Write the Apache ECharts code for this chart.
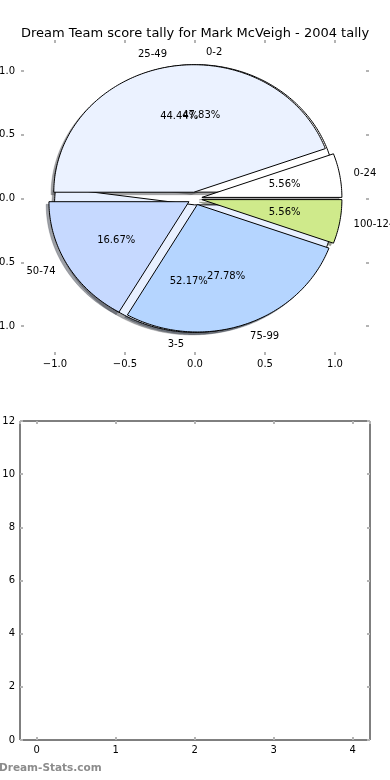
<!DOCTYPE html>
<html><head><meta charset="utf-8">
<script src="https://cdn.jsdelivr.net/npm/echarts@6/dist/echarts.min.js"></script>
<style>html,body{margin:0;padding:0;background:#fff}#c{width:390px;height:780px}</style>
</head><body><div id="c"></div>
<script>
const titleText = 'Dream Team score tally for Mark McVeigh - 2004 tally';
const innerCategories = ['0-2', '3-5'];
const innerCounts = [11, 12];
const outerCategories = ['0-24', '25-49', '50-74', '75-99', '100-124'];
const outerCounts = [1, 8, 3, 5, 1];
const pieTicks = [-1.0, -0.5, 0.0, 0.5, 1.0];
const lowerXTicks = [0, 1, 2, 3, 4];
const lowerYTicks = [0, 2, 4, 6, 8, 10, 12];
const watermark = 'Dream-Stats.com';

const innerColors = ['#ffffff', '#e8f0ff'];
const outerColors = ['#ffffff', '#ebf2ff', '#c6d9ff', '#b5d5ff', '#cfea8b'];
const EXPLODE = 0.05;
const FONT = 'DejaVu Sans';

function buildSlices(counts, pieIdx) {
  const total = counts.reduce((a, b) => a + b, 0);
  let acc = 0;
  return counts.map((v, i) => {
    const t1 = acc / total * 360; acc += v; const t2 = acc / total * 360;
    return [t1, t2, pieIdx, i, v / total * 100];
  });
}
const innerSlices = buildSlices(innerCounts, 0);
const outerSlices = buildSlices(outerCounts, 1);
const allSlices = innerSlices.concat(outerSlices);

function colorOf(pieIdx, i) { return pieIdx === 0 ? innerColors[i] : outerColors[i]; }
function labelOf(pieIdx, i) { return pieIdx === 0 ? innerCategories[i] : outerCategories[i]; }

function wedgePoints(api, t1, t2, dx, dy) {
  const mid = (t1 + t2) / 2 * Math.PI / 180;
  const cx = EXPLODE * Math.cos(mid) + dx, cy = EXPLODE * Math.sin(mid) + dy;
  const pts = [api.coord([cx, cy])];
  const n = Math.max(4, Math.ceil(t2 - t1));
  for (let k = 0; k <= n; k++) {
    const t = (t1 + (t2 - t1) * k / n) * Math.PI / 180;
    pts.push(api.coord([cx + Math.cos(t), cy + Math.sin(t)]));
  }
  return pts;
}
function shadowColor(hex) {
  const r = parseInt(hex.slice(1, 3), 16), g = parseInt(hex.slice(3, 5), 16), b = parseInt(hex.slice(5, 7), 16);
  return 'rgba(' + Math.round(r * 0.3) + ',' + Math.round(g * 0.3) + ',' + Math.round(b * 0.3) + ',0.5)';
}

function wedgeRender(params, api) {
  const t1 = api.value(0), t2 = api.value(1), p = api.value(2), i = api.value(3);
  return { type: 'polygon', shape: { points: wedgePoints(api, t1, t2, 0, 0) },
    style: { fill: colorOf(p, i), stroke: '#000', lineWidth: 1 } };
}
function shadowRender(params, api) {
  const t1 = api.value(0), t2 = api.value(1), p = api.value(2), i = api.value(3);
  const c = shadowColor(colorOf(p, i));
  return { type: 'polygon', shape: { points: wedgePoints(api, t1, t2, -0.02, -0.02) },
    style: { fill: c, stroke: c, lineWidth: 0.5 } };
}
function labelRender(params, api) {
  const t1 = api.value(0), t2 = api.value(1), p = api.value(2), i = api.value(3), pct = api.value(4);
  const mid = (t1 + t2) / 2 * Math.PI / 180;
  const cx = EXPLODE * Math.cos(mid), cy = EXPLODE * Math.sin(mid);
  const lx = cx + 1.1 * Math.cos(mid), ly = cy + 1.1 * Math.sin(mid);
  const lp = api.coord([lx, ly]);
  const pp = api.coord([cx + 0.6 * Math.cos(mid), cy + 0.6 * Math.sin(mid)]);
  return { type: 'group', children: [
    { type: 'text', x: lp[0], y: lp[1], style: { text: labelOf(p, i), fill: '#000', font: '10px "' + FONT + '"', align: lx > 0 ? 'left' : 'right', verticalAlign: 'middle' } },
    { type: 'text', x: pp[0], y: pp[1], style: { text: pct.toFixed(2) + '%', fill: '#000', font: '10px "' + FONT + '"', align: 'center', verticalAlign: 'middle' } }
  ] };
}

const tickStyle = { show: true, inside: true, length: 3, lineStyle: { color: '#b4b4b4', width: 2 } };
const labelStyle = { fontFamily: FONT, fontSize: 10, color: '#000' };
const hiddenLine = { show: true, onZero: false, lineStyle: { color: 'rgba(0,0,0,0)', width: 1 } };
const fmt1 = v => v.toFixed(1).replace('-', '\u2212');
const fmt0 = v => String(v);

function pieAxis(kind, pos, offset, showLabel) {
  return { type: 'value', gridIndex: 0, position: pos, offset: offset,
    min: pieTicks[0], max: pieTicks[pieTicks.length - 1], interval: pieTicks[1] - pieTicks[0],
    axisLine: hiddenLine, splitLine: { show: false }, axisTick: tickStyle,
    axisLabel: Object.assign({ show: showLabel, formatter: fmt1, margin: kind === 'x' ? 4 : 6 }, labelStyle) };
}
function lowerX(pos, showLabel) {
  return { type: 'value', gridIndex: 1, position: pos, min: -0.21, max: 4.22,
    axisLine: hiddenLine, splitLine: { show: false }, axisTick: tickStyle,
    axisLabel: Object.assign({ show: showLabel, formatter: v => (lowerXTicks.indexOf(v) >= 0 ? fmt0(v) : ''), margin: 5, showMinLabel: false, showMaxLabel: false }, labelStyle) };
}
function lowerY(pos, showLabel) {
  return { type: 'value', gridIndex: 1, position: pos, min: lowerYTicks[0], max: lowerYTicks[lowerYTicks.length - 1], interval: lowerYTicks[1] - lowerYTicks[0],
    axisLine: hiddenLine, splitLine: { show: false }, axisTick: tickStyle,
    axisLabel: Object.assign({ show: showLabel, formatter: fmt0, margin: 5 }, labelStyle) };
}

const chart = echarts.init(document.getElementById('c'), null, { renderer: 'canvas' });
chart.setOption({
  animation: false,
  backgroundColor: '#fff',
  title: { text: titleText, left: 'center', top: 22, textStyle: { fontFamily: FONT, fontSize: 13, fontWeight: 'normal', color: '#000' } },
  grid: [
    { left: 55, right: 55, top: 71, bottom: 454, show: false, containLabel: false, outerBoundsMode: 'none' },
    { left: 20, right: 20, top: 421, bottom: 40, show: true, borderColor: '#000', borderWidth: 1, containLabel: false, outerBoundsMode: 'none' }
  ],
  xAxis: [pieAxis('x', 'bottom', 29, true), pieAxis('x', 'top', 31, false), lowerX('bottom', true), lowerX('top', false)],
  yAxis: [pieAxis('y', 'left', 34, true), pieAxis('y', 'right', 34, false), lowerY('left', true), lowerY('right', false)],
  graphic: [{ type: 'text', left: -1, top: 763, style: { text: watermark, fill: '#8c8c8c', font: 'bold 10.5px "' + FONT + '"' } }],
  series: [
    { type: 'custom', name: 'shadow', coordinateSystem: 'cartesian2d', xAxisIndex: 0, yAxisIndex: 0, clip: false, z: 1, silent: true, renderItem: shadowRender, data: allSlices },
    { type: 'custom', name: 'inner', coordinateSystem: 'cartesian2d', xAxisIndex: 0, yAxisIndex: 0, clip: false, z: 2, silent: true, renderItem: wedgeRender, data: innerSlices },
    { type: 'custom', name: 'outer', coordinateSystem: 'cartesian2d', xAxisIndex: 0, yAxisIndex: 0, clip: false, z: 3, silent: true, renderItem: wedgeRender, data: outerSlices },
    { type: 'custom', name: 'labels', coordinateSystem: 'cartesian2d', xAxisIndex: 0, yAxisIndex: 0, clip: false, z: 4, silent: true, renderItem: labelRender, data: allSlices }
  ]
});
</script></body></html>
